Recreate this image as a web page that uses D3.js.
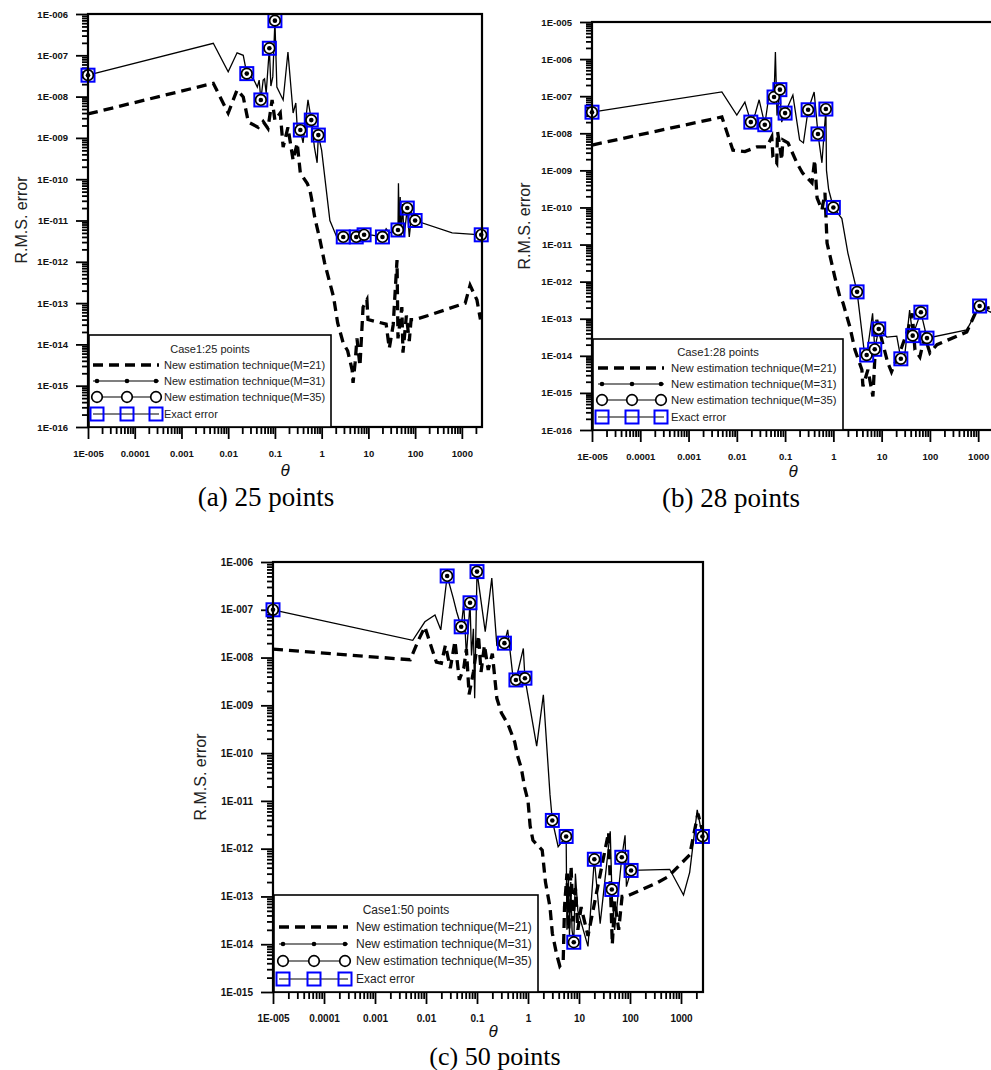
<!DOCTYPE html>
<html>
<head>
<meta charset="utf-8">
<script src="https://cdn.jsdelivr.net/npm/d3@7"></script>
<style>
  body { margin: 0; background: #fff; }
  svg { display: block; }
</style>
</head>
<body>
<div id="chart"></div>
<script>
// x axis ticks shared by the three panels
const xTickValues = [1e-5, 1e-4, 1e-3, 1e-2, 1e-1, 1, 10, 100, 1000];
const xTickLabels = ["1E-005", "0.0001", "0.001", "0.01", "0.1", "1", "10", "100", "1000"];

const yLabelsA = ["1E-016","1E-015","1E-014","1E-013","1E-012","1E-011","1E-010","1E-009","1E-008","1E-007","1E-006"];
const yLabelsB = ["1E-016","1E-015","1E-014","1E-013","1E-012","1E-011","1E-010","1E-009","1E-008","1E-007","1E-006","1E-005"];
const yLabelsC = ["1E-015","1E-014","1E-013","1E-012","1E-011","1E-010","1E-009","1E-008","1E-007","1E-006"];

const legendNames = ["New estimation technique(M=21)", "New estimation technique(M=31)",
                     "New estimation technique(M=35)", "Exact error"];

// ---- case 1 : 25 points ----
const caseA_M21 = [[1e-5,3.8e-9],[0.0048,2.1e-8],[0.01,4e-9],[0.0155,1.45e-8],[0.021,9.8e-9],[0.027,2.4e-9],
  [0.044,1.8e-9],[0.056,2.5e-9],[0.071,1.7e-9],[0.087,8.3e-9],[0.1,2.7e-9],[0.13,4e-9],[0.15,6e-10],[0.19,1.8e-9],
  [0.245,2.9e-10],[0.3,7.5e-10],[0.35,1.4e-10],[0.49,8e-11],[0.56,5.5e-11],[0.62,3e-11],[0.71,1.2e-11],
  [0.92,3.4e-12],[1.16,9.3e-13],[1.8,1.4e-13],[2.2,3.3e-14],[2.9,1.07e-14],[3.6,7e-15],[4.5,2.4e-15],
  [4.7,1.17e-15],[5.2,3.6e-15],[5.7,1.4e-14],[6.6,3e-15],[7.7,8e-14],[9.3,1.2e-13],[9.8,4e-14],[24,3.1e-14],
  [28,8e-15],[34,3e-14],[41,1.1e-12],[43,1.4e-14],[52,8e-14],[55,6.3e-15],[65,5e-14],[75,1.2e-14],[82,4e-14],
  [100,4e-14],[190,5e-14],[1180,1e-13],[1500,2.7e-13],[2100,1.2e-13],[2500,4e-14]];
const caseA_M31 = [[1e-5,3.3e-8],[0.0048,1.95e-7],[0.01,4e-8],[0.0155,1.15e-7],[0.021,1.0e-7],[0.025,3.6e-8],
  [0.035,2.6e-8],[0.042,1.7e-8],[0.046,2.5e-8],[0.05,8.3e-9],[0.056,2.5e-8],[0.06,2.7e-8],[0.065,1.2e-8],
  [0.076,1.48e-7],[0.082,1.8e-8],[0.09,3e-8],[0.1,6.9e-7],[0.11,1.7e-8],[0.15,8.3e-9],[0.19,1.2e-7],[0.245,4e-9],
  [0.28,7e-9],[0.3,1.8e-9],[0.35,1.55e-9],[0.4,7.6e-10],[0.51,8.3e-9],[0.6,2.7e-9],[0.7,6e-10],[0.8,2.5e-10],
  [0.85,1.17e-9],[1.0,5e-10],[1.5,1e-11],[2.1,4e-12],[2.9,4e-12],[4.0,4e-12],[5.5,4e-12],[8.1,4.5e-12],
  [12,4.4e-12],[20,4e-12],[24,6.3e-12],[28,5e-12],[43,5.9e-12],[44,8e-11],[46,4e-12],[48,3.7e-11],[50,4e-12],
  [54,2.5e-11],[58,4e-12],[68,2e-11],[75,4e-12],[85,1.5e-11],[100,1e-11],[620,5e-12],[2600,4.5e-12]];
const caseA_marks = [[1e-5,3.3e-8],[0.025,3.6e-8],[0.05,8.3e-9],[0.076,1.48e-7],[0.1,6.9e-7],[0.35,1.55e-9],
  [0.6,2.7e-9],[0.85,1.17e-9],[2.9,4e-12],[5.5,4e-12],[8.1,4.5e-12],[20,4e-12],[43,5.9e-12],[68,2e-11],
  [100,1e-11],[2600,4.5e-12]];

// ---- case 1 : 28 points ----
const caseB_M21 = [[1e-5,4.8e-9],[0.0049,2.75e-8],[0.0083,3.5e-9],[0.0147,3.2e-9],[0.026,4.3e-9],[0.042,4.3e-9],
  [0.053,7.9e-9],[0.056,2.3e-9],[0.067,1.6e-9],[0.07,1.1e-8],[0.085,1.9e-9],[0.09,6.6e-9],[0.115,5.5e-9],
  [0.175,1.6e-9],[0.23,8.5e-10],[0.36,4.6e-10],[0.41,1.9e-9],[0.46,1.8e-10],[0.58,8.5e-11],[0.67,2.5e-10],
  [0.74,1.1e-11],[1.07,1.35e-12],[1.36,3.9e-13],[1.58,2.7e-13],[2.2,6e-14],[2.8,1.45e-14],[3.9,4.2e-15],
  [4.1,1.5e-15],[5.2,4.2e-15],[6.6,8e-16],[7.2,7.8e-15],[7.9,9.3e-14],[10.5,2.2e-14],[13.4,6.5e-15],[16,3.7e-15],
  [26,1.7e-14],[35,5e-14],[43,1.4e-13],[49,1.45e-14],[62,9.3e-15],[78,3.4e-14],[100,1.2e-14],[140,2e-14],
  [580,4.4e-14],[930,1.7e-13],[1740,2e-13],[2600,1.5e-13]];
const caseB_M31 = [[1e-5,3.7e-8],[0.0049,1.3e-7],[0.01,3.1e-8],[0.0147,6.9e-8],[0.0195,2e-8],[0.024,3.3e-8],
  [0.029,8e-8],[0.038,1.7e-8],[0.045,8e-8],[0.059,9.5e-8],[0.063,1.55e-6],[0.068,3e-8],[0.078,1.5e-7],
  [0.085,2e-8],[0.1,3.5e-8],[0.145,1.07e-7],[0.2,6.6e-9],[0.24,5.5e-9],[0.3,4.3e-8],[0.4,1.3e-7],[0.48,9.6e-9],
  [0.58,1.6e-9],[0.7,4.5e-8],[0.72,1e-9],[0.8,3e-10],[1.0,1e-10],[1.5,5e-11],[2.0,5.9e-12],[3.1,5.3e-13],
  [4.5,9.3e-15],[4.9,1.05e-14],[6.5,1.4e-13],[7.2,1.5e-14],[8.7,5.3e-14],[12.8,3.2e-14],[20.6,3.4e-14],
  [25,8.3e-15],[30,1e-14],[38,1.7e-13],[44,3.5e-14],[65,1.5e-13],[87,3e-14],[580,5e-14],[1070,2.2e-13],
  [1800,1.5e-13],[2600,2.5e-13]];
const caseB_marks = [[1e-5,3.7e-8],[0.0195,2e-8],[0.038,1.7e-8],[0.059,9.5e-8],[0.078,1.5e-7],[0.1,3.5e-8],
  [0.3,4.3e-8],[0.48,9.6e-9],[0.7,4.5e-8],[1.0,1e-10],[3.1,5.3e-13],[4.9,1.05e-14],[7.2,1.5e-14],[8.7,5.3e-14],
  [25,8.3e-15],[44,3.5e-14],[65,1.5e-13],[87,3e-14],[1070,2.2e-13]];

// ---- case 1 : 50 points ----
const caseC_M21 = [[1e-5,1.5e-8],[0.0049,9e-9],[0.0071,2.3e-8],[0.0095,4.4e-8],[0.013,1.55e-8],[0.016,8e-9],
  [0.02,7.6e-9],[0.024,1.8e-8],[0.03,6e-9],[0.037,2.2e-8],[0.045,3.4e-9],[0.055,6e-9],[0.062,1.5e-8],
  [0.07,1.7e-9],[0.085,5e-9],[0.107,2.9e-8],[0.12,5e-9],[0.14,1.8e-8],[0.166,5.5e-9],[0.2,1.2e-8],
  [0.245,1.4e-9],[0.3,7e-10],[0.41,3.9e-10],[0.55,1.7e-10],[0.62,9e-11],[0.74,4.8e-11],[0.86,1.9e-11],
  [1.0,1e-11],[1.1,3e-12],[1.25,1.5e-12],[1.9,9.3e-13],[2.2,2e-13],[2.7,6e-14],[3.0,1.7e-14],[3.6,6.5e-15],
  [4.2,3.5e-15],[4.9,4.4e-15],[5.2,6e-14],[5.8,3e-13],[6.3,2e-14],[7.0,4.3e-13],[7.6,3e-14],[8.5,1.5e-13],
  [9.5,2e-14],[11,6e-14],[15,1.5e-14],[38,2.2e-12],[45,1e-14],[50,8e-14],[60,2e-14],[70,1e-13],[85,1e-13],
  [330,1.9e-13],[560,2.6e-13],[1480,7.4e-13],[2150,5.4e-12],[2600,2.5e-12]];
const caseC_M31 = [[1e-5,1e-7],[0.0055,2.3e-8],[0.0095,5.6e-8],[0.015,7.8e-8],[0.0195,3.8e-8],[0.026,5.1e-7],
  [0.034,1.8e-7],[0.04,9e-8],[0.049,4.4e-8],[0.055,1.3e-7],[0.062,1.1e-8],[0.073,1.4e-7],[0.078,1.1e-8],
  [0.085,4e-8],[0.09,1.4e-9],[0.1,6.3e-7],[0.145,3.5e-8],[0.195,4.6e-7],[0.245,1.8e-8],[0.345,2e-8],
  [0.4,3.8e-8],[0.51,3.7e-9],[0.58,3.4e-9],[0.81,1.55e-8],[0.87,3.7e-9],[1.48,1.4e-10],[2.0,1.66e-9],
  [2.7,1.35e-11],[3.0,3.9e-12],[3.9,1.1e-12],[5.6,1.8e-12],[5.8,2e-14],[6.2,3e-13],[6.5,1.5e-14],[6.9,2e-13],
  [7.3,2e-14],[7.9,1.1e-14],[8.5,3e-13],[9.5,5e-14],[15,9e-15],[20,6e-13],[26,2.7e-14],[41,2.3e-12],
  [44,1.4e-13],[50,2e-14],[69,6.6e-13],[80,1.9e-12],[85,1.6e-13],[105,3.5e-13],[600,3.7e-13],[1120,1.07e-13],
  [1480,3.2e-13],[2080,6.5e-12],[2630,1.8e-12]];
const caseC_marks = [[1e-5,1e-7],[0.026,5.1e-7],[0.049,4.4e-8],[0.073,1.4e-7],[0.1,6.3e-7],[0.345,2e-8],
  [0.58,3.4e-9],[0.87,3.7e-9],[3.0,3.9e-12],[5.6,1.8e-12],[7.9,1.1e-14],[20,6e-13],[44,1.4e-13],[69,6.6e-13],
  [105,3.5e-13],[2630,1.8e-12]];

const xDomain = [1e-5, 2700];

// layout of each panel (pixels), built around the data arrays above
const panels = [
  {dashed: caseA_M21, solid: caseA_M31, marks: caseA_marks, yLabels: yLabelsA,
   title: "Case1:25 points", caption: "(a) 25 points",
   left: 88, right: 482, top: 14, bottom: 427, tickFs: 9.5, capFs: 27,
   legend: {x: 89, y: 335, w: 242, h: 92, fs: 11, title: 14, rows: [30, 46, 62, 79], sym: [8, 38, 67], tx: 75},
   yTitle: [27, 220], xTitle: [285, 476], cap: [266, 506]},
  {dashed: caseB_M21, solid: caseB_M31, marks: caseB_marks, yLabels: yLabelsB,
   title: "Case1:28 points", caption: "(b) 28 points",
   left: 592, right: 999, top: 22, bottom: 430, tickFs: 9.5, capFs: 27,
   legend: {x: 593, y: 339, w: 250, h: 91, fs: 11.3, title: 13, rows: [29, 45, 61, 78], sym: [9, 39, 68], tx: 78},
   yTitle: [530, 226], xTitle: [793, 477], cap: [731, 507]},
  {dashed: caseC_M21, solid: caseC_M31, marks: caseC_marks, yLabels: yLabelsC,
   title: "Case1:50 points", caption: "(c) 50 points",
   left: 273, right: 703, top: 562, bottom: 992, tickFs: 10, capFs: 26,
   legend: {x: 274, y: 895, w: 264, h: 97, fs: 12, title: 15, rows: [32, 49, 66, 84], sym: [9, 40, 71], tx: 82},
   yTitle: [206, 777], xTitle: [493, 1037], cap: [495, 1065]}
];

const svg = d3.select("#chart").append("svg")
    .attr("width", 991)
    .attr("height", 1070)
    .style("font-family", "'Liberation Sans', Arial, sans-serif");

function minorTicks(lo, hi) {
    const out = [];
    for (let e = Math.floor(Math.log10(lo)); e <= Math.ceil(Math.log10(hi)); e++) {
        for (let k = 2; k <= 9; k++) {
            const v = k * Math.pow(10, e);
            if (v > lo && v < hi) out.push(v);
        }
    }
    return out;
}

function drawMarks(g, pts, x, y) {
    // blue square = exact error, open circle = M=35, small dot = M=31
    g.selectAll(null).data(pts).enter().append("rect")
        .attr("x", d => x(d[0]) - 6.5).attr("y", d => y(d[1]) - 6.5)
        .attr("width", 13).attr("height", 13)
        .attr("fill", "none").attr("stroke", "#0000ff").attr("stroke-width", 2);
    g.selectAll(null).data(pts).enter().append("circle")
        .attr("cx", d => x(d[0])).attr("cy", d => y(d[1])).attr("r", 5.3)
        .attr("fill", "#fff").attr("stroke", "#000").attr("stroke-width", 1.7);
    g.selectAll(null).data(pts).enter().append("circle")
        .attr("cx", d => x(d[0])).attr("cy", d => y(d[1])).attr("r", 2.3)
        .attr("fill", "#000");
}

panels.forEach(p => {
    const g = svg.append("g");
    const yVals = p.yLabels.map(Number);
    const x = d3.scaleLog().domain(xDomain).range([p.left, p.right]);
    const y = d3.scaleLog().domain([yVals[0], yVals[yVals.length - 1]]).range([p.bottom, p.top]);

    // x axis, major + minor
    const xa = g.append("g").attr("transform", `translate(0,${p.bottom})`)
        .call(d3.axisBottom(x).tickValues(xTickValues).tickFormat((d, i) => xTickLabels[i])
            .tickSize(12).tickPadding(11));
    g.append("g").attr("transform", `translate(0,${p.bottom})`)
        .call(d3.axisBottom(x).tickValues(minorTicks(xDomain[0], xDomain[1])).tickFormat("").tickSize(7));
    // y axis, major + minor
    const ya = g.append("g").attr("transform", `translate(${p.left},0)`)
        .call(d3.axisLeft(y).tickValues(yVals).tickFormat((d, i) => p.yLabels[i])
            .tickSize(12).tickPadding(8));
    g.append("g").attr("transform", `translate(${p.left},0)`)
        .call(d3.axisLeft(y).tickValues(minorTicks(yVals[0], yVals[yVals.length - 1])).tickFormat("").tickSize(6));

    g.selectAll(".domain").remove();
    g.selectAll(".tick line").attr("stroke", "#000").attr("stroke-width", 1.8);
    [xa, ya].forEach(a => a.selectAll("text")
        .attr("fill", "#111").style("font-size", p.tickFs + "px").style("font-weight", "bold")
        .style("font-family", "'Liberation Sans', Arial, sans-serif"));

    // data lines
    const line = d3.line().x(d => x(d[0])).y(d => y(d[1]));
    g.append("path").datum(p.solid).attr("d", line)
        .attr("fill", "none").attr("stroke", "#000").attr("stroke-width", 1.3).attr("stroke-linejoin", "miter");
    g.append("path").datum(p.dashed).attr("d", line)
        .attr("fill", "none").attr("stroke", "#000").attr("stroke-width", 3.3)
        .attr("stroke-dasharray", "10,6");
    drawMarks(g, p.marks, x, y);

    // frame
    g.append("rect").attr("x", p.left).attr("y", p.top)
        .attr("width", p.right - p.left).attr("height", p.bottom - p.top)
        .attr("fill", "none").attr("stroke", "#000").attr("stroke-width", 2.2);

    // legend
    const L = p.legend;
    const lg = g.append("g").attr("transform", `translate(${L.x},${L.y})`);
    lg.append("rect").attr("width", L.w).attr("height", L.h)
        .attr("fill", "#fff").attr("stroke", "#000").attr("stroke-width", 1.6);
    lg.append("text").attr("x", L.w / 2).attr("y", L.title).attr("dy", "0.35em")
        .attr("text-anchor", "middle").style("font-size", L.fs + "px").attr("fill", "#222").text(p.title);
    const x0 = L.sym[0] - 4, x1 = L.sym[2] + 3;
    legendNames.forEach((name, i) => {
        const ry = L.rows[i];
        const ln = lg.append("line").attr("x1", x0).attr("x2", x1).attr("y1", ry).attr("y2", ry)
            .attr("stroke", "#000");
        if (i === 0) ln.attr("stroke-width", 3.3).attr("stroke-dasharray", "10,6");
        else ln.attr("stroke-width", 1.2);
        L.sym.forEach(sx => {
            if (i === 1) lg.append("circle").attr("cx", sx).attr("cy", ry).attr("r", 2.3).attr("fill", "#000");
            if (i === 2) lg.append("circle").attr("cx", sx).attr("cy", ry).attr("r", 5.3)
                .attr("fill", "#fff").attr("stroke", "#000").attr("stroke-width", 1.7);
            if (i === 3) lg.append("rect").attr("x", sx - 6.5).attr("y", ry - 6.5).attr("width", 13).attr("height", 13)
                .attr("fill", "none").attr("stroke", "#0000ff").attr("stroke-width", 2);
        });
        lg.append("text").attr("x", L.tx).attr("y", ry).attr("dy", "0.35em")
            .style("font-size", L.fs + "px").attr("fill", "#222").text(name);
    });

    // axis titles and caption
    g.append("text").attr("transform", `translate(${p.yTitle[0]},${p.yTitle[1]}) rotate(-90)`)
        .attr("text-anchor", "middle").style("font-size", "16px").attr("fill", "#222").text("R.M.S. error");
    g.append("text").attr("x", p.xTitle[0]).attr("y", p.xTitle[1]).attr("text-anchor", "middle")
        .style("font-size", "17px").style("font-style", "italic").attr("fill", "#111").text("θ");
    g.append("text").attr("x", p.cap[0]).attr("y", p.cap[1]).attr("text-anchor", "middle")
        .style("font-family", "'Liberation Serif', 'Times New Roman', serif").style("font-size", p.capFs + "px")
        .attr("fill", "#000").text(p.caption);
});
</script>
</body>
</html>
